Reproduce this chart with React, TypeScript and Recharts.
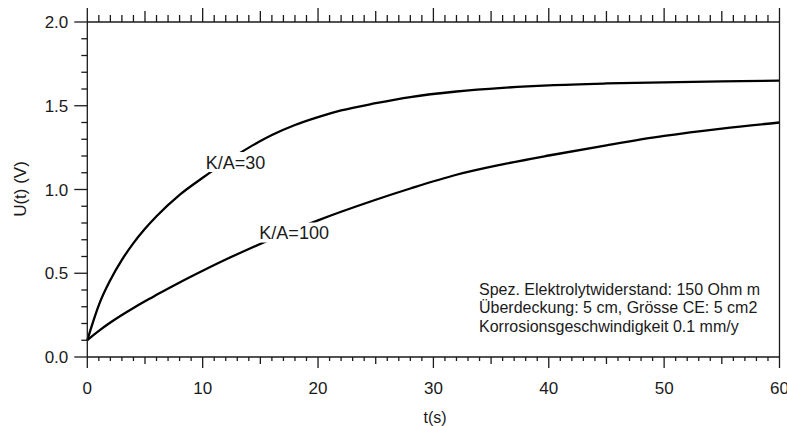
import React from 'react';
import { Line, LineChart, ReferenceDot, XAxis, YAxis } from 'recharts';

// time axis (s) and the two voltage curves U(t) in V
const tValues = [0, 0.5, 1, 2, 3, 4, 5, 6, 8, 10, 12, 14, 16, 18, 20, 22, 25, 28, 32, 36, 40, 45, 50, 55, 60];
const ka30 = [0.1, 0.21, 0.31, 0.46, 0.58, 0.68, 0.765, 0.84, 0.968, 1.07, 1.165, 1.25, 1.325, 1.385, 1.432, 1.472, 1.515, 1.552, 1.585, 1.607, 1.622, 1.633, 1.64, 1.646, 1.65];
const ka100 = [0.1, 0.129, 0.156, 0.206, 0.251, 0.293, 0.333, 0.371, 0.445, 0.515, 0.582, 0.645, 0.705, 0.762, 0.816, 0.867, 0.939, 1.006, 1.088, 1.15, 1.203, 1.264, 1.32, 1.364, 1.4];

const seriesLabels = ['K/A=30', 'K/A=100'];
const labelT = [12.85, 17.93];
const labelU = [1.164, 0.743];

const infoLines = [
  'Spez. Elektrolytwiderstand: 150 Ohm m',
  'Überdeckung: 5 cm, Grösse CE: 5 cm2',
  'Korrosionsgeschwindigkeit 0.1 mm/y',
];

const tTicks = Array.from({ length: 61 }, (_, i) => i);
const uTicks = Array.from({ length: 21 }, (_, i) => Number((i / 10).toFixed(1)));

const data = tValues.map((t, i) => ({ t, ka30: ka30[i], ka100: ka100[i] }));

const FONT = '"Liberation Sans", Arial, sans-serif';
const INK = '#1a1a1a';

const tickLen = (v: number, bottom: boolean) => {
  if (v % 10 === 0) return bottom ? 11 : 14;
  if (v % 5 === 0) return bottom ? 7 : 11;
  return bottom ? 4 : 7;
};

const BottomTick = ({ x, y, payload }: any) => {
  const v = payload.value;
  return (
    <g>
      <line x1={x} x2={x} y1={y} y2={y + tickLen(v, true)} stroke={INK} strokeWidth={1.3} />
      {v % 10 === 0 && (
        <text x={x} y={y + 37} textAnchor="middle" fontSize={17} fontFamily={FONT} fill={INK}>
          {v}
        </text>
      )}
    </g>
  );
};

const TopTick = ({ x, y, payload }: any) => (
  <line x1={x} x2={x} y1={y} y2={y - tickLen(payload.value, false)} stroke={INK} strokeWidth={1.3} />
);

const LeftTick = ({ x, y, payload }: any) => {
  const v = payload.value;
  const major = Math.round(v * 10) % 5 === 0;
  return (
    <g>
      <line x1={x - (major ? 13 : 6)} x2={x} y1={y} y2={y} stroke={INK} strokeWidth={1.3} />
      {major && (
        <text x={x - 19} y={y + 6} textAnchor="end" fontSize={17} fontFamily={FONT} fill={INK}>
          {v.toFixed(1)}
        </text>
      )}
    </g>
  );
};

const RightTick = ({ x, y }: any) => (
  <line x1={x} x2={x + 6} y1={y} y2={y} stroke={INK} strokeWidth={1.3} />
);

const curveTag = (text: string) => (p: any) => {
  const w = text.length * 10 + 4;
  return (
    <g>
      <rect x={p.cx - w / 2} y={p.cy - 10} width={w} height={20} fill="#fff" />
      <text x={p.cx} y={p.cy + 6.5} textAnchor="middle" fontSize={18} fontFamily={FONT} fill={INK}>
        {text}
      </text>
    </g>
  );
};

export default function App(): React.ReactElement {
  return (
    <div style={{ position: 'relative', width: 787, height: 426, background: '#fff' }}>
      <style>{'body{margin:0;}'}</style>
      <LineChart width={787} height={426} data={data} margin={{ top: 21, right: 6.5, bottom: 68, left: 86.3 }}>
        <XAxis
          xAxisId="b"
          dataKey="t"
          type="number"
          domain={[0, 60]}
          ticks={tTicks}
          interval={0}
          height={1}
          tickSize={0}
          tickMargin={0}
          tick={<BottomTick />}
          axisLine={{ stroke: INK, strokeWidth: 1.3 }}
        />
        <XAxis
          xAxisId="top"
          orientation="top"
          dataKey="t"
          type="number"
          domain={[0, 60]}
          ticks={tTicks}
          interval={0}
          height={1}
          tickSize={0}
          tickMargin={0}
          tick={<TopTick />}
          axisLine={{ stroke: INK, strokeWidth: 1.3 }}
        />
        <YAxis
          yAxisId="l"
          type="number"
          domain={[0, 2]}
          ticks={uTicks}
          interval={0}
          width={1}
          tickSize={0}
          tickMargin={0}
          tick={<LeftTick />}
          axisLine={{ stroke: INK, strokeWidth: 1.3 }}
        />
        <YAxis
          yAxisId="r"
          orientation="right"
          type="number"
          domain={[0, 2]}
          ticks={uTicks}
          interval={0}
          width={1}
          tickSize={0}
          tickMargin={0}
          tick={<RightTick />}
          axisLine={{ stroke: INK, strokeWidth: 1.3 }}
        />
        <Line xAxisId="b" yAxisId="l" type="monotone" dataKey="ka30" stroke="#000" strokeWidth={2.3} dot={false} isAnimationActive={false} />
        <Line xAxisId="b" yAxisId="l" type="monotone" dataKey="ka100" stroke="#000" strokeWidth={2.3} dot={false} isAnimationActive={false} />
        {seriesLabels.map((s, i) => (
          <ReferenceDot key={s} xAxisId="b" yAxisId="l" x={labelT[i]} y={labelU[i]} r={0} shape={curveTag(s)} />
        ))}
      </LineChart>
      <svg width={787} height={426} style={{ position: 'absolute', left: 0, top: 0, pointerEvents: 'none' }}>
        <text x={20} y={189} transform="rotate(-90 20 189)" dy={6} textAnchor="middle" fontSize={17} fontFamily={FONT} fill={INK}>
          U(t) (V)
        </text>
        <text x={435} y={423} textAnchor="middle" fontSize={16} fontFamily={FONT} fill={INK}>
          t(s)
        </text>
        {infoLines.map((l, i) => (
          <text key={l} x={479} y={295 + i * 18.3} fontSize={16} fontFamily={FONT} fill={INK}>
            {l}
          </text>
        ))}
      </svg>
    </div>
  );
}
